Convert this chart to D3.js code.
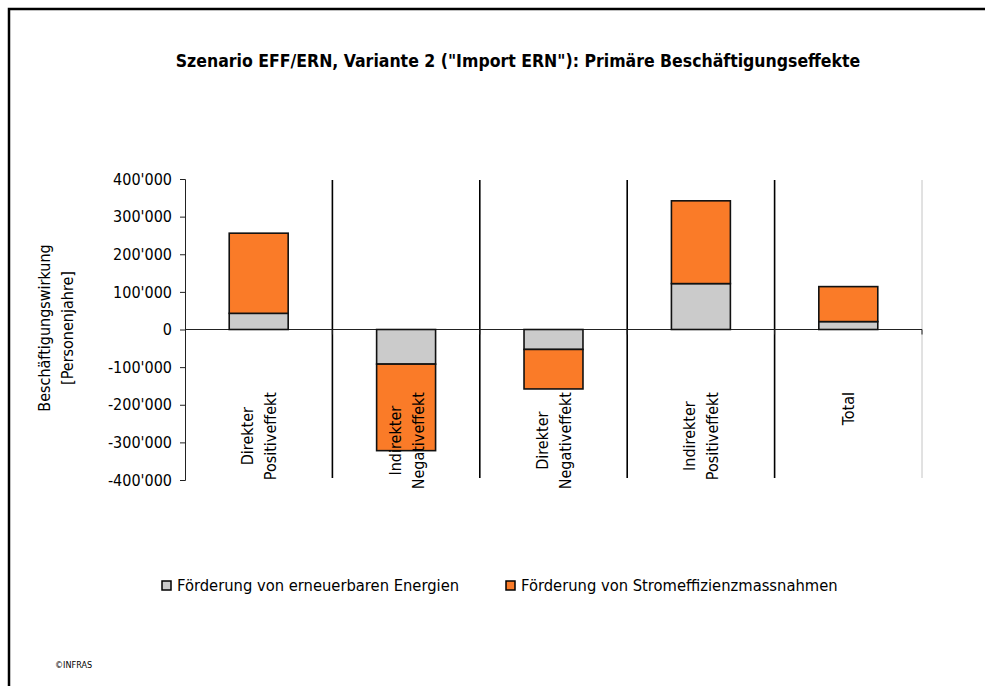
<!DOCTYPE html>
<html>
<head>
<meta charset="utf-8">
<script src="https://cdn.jsdelivr.net/npm/d3@7"></script>
<style>
  body { margin: 0; background: #fff; }
  svg text { font-family: "DejaVu Sans Condensed", "DejaVu Sans", sans-serif; font-stretch: condensed; fill: #000; }
</style>
</head>
<body>
<svg id="chart" width="985" height="686"></svg>
<script>
// data
var categories = ["Direkter Positiveffekt", "Indirekter Negativeffekt", "Direkter Negativeffekt", "Indirekter Positiveffekt", "Total"];
var seriesNames = ["Förderung von erneuerbaren Energien", "Förderung von Stromeffizienzmassnahmen"];
var erneuerbar = [43000, -92000, -53000, 122000, 21000];
var stromeffizienz = [213000, -230000, -105000, 220000, 93000];
var yTicks = [-400000, -300000, -200000, -100000, 0, 100000, 200000, 300000, 400000];
var colors = ["#cbcbcb", "#fa7b28"];

// note: "top" is taken by window.top, so plot edges get their own names
var svg = d3.select("#chart"),
    plotLeft = 185, plotRight = 922, plotTop = 179, plotBottom = 480;

// outer frame (runs off the right and bottom edge)
svg.append("rect")
    .attr("x", 9).attr("y", 9)
    .attr("width", 1000).attr("height", 1000)
    .attr("fill", "none").attr("stroke", "#000").attr("stroke-width", 2.5);

svg.append("text")
    .attr("x", 518).attr("y", 67)
    .attr("text-anchor", "middle")
    .style("font-size", "17.5px").style("font-weight", "bold")
    .text('Szenario EFF/ERN, Variante 2 ("Import ERN"): Primäre Beschäftigungseffekte');

var x = d3.scaleBand().domain(categories).range([plotLeft, plotRight]).padding(0);
var y = d3.scaleLinear().domain([-400000, 400000]).range([plotBottom, plotTop]);

var locale = d3.formatLocale({decimal: ".", thousands: "'", grouping: [3], currency: ["", ""], minus: "-"});
var fmt = locale.format(",d");

var table = categories.map(function (c, i) {
    return {cat: c, s0: erneuerbar[i], s1: stromeffizienz[i]};
});
var stack = d3.stack().keys(["s0", "s1"]).offset(d3.stackOffsetDiverging);
var layers = stack(table);

// separators between the categories
var bounds = categories.map(function (c) { return x(c); }).slice(1);
svg.selectAll(".sep")
    .data(bounds)
    .enter().append("line")
    .attr("class", "sep")
    .attr("x1", function (d) { return d; }).attr("x2", function (d) { return d; })
    .attr("y1", plotTop + 1).attr("y2", plotBottom - 2)
    .attr("stroke", "#000").attr("stroke-width", 1.6);

svg.append("line")
    .attr("x1", plotRight).attr("x2", plotRight)
    .attr("y1", plotTop + 1).attr("y2", plotBottom - 2)
    .attr("stroke", "#c4c4c4").attr("stroke-width", 1);

// zero line with category ticks
svg.append("line")
    .attr("x1", plotLeft).attr("x2", plotRight)
    .attr("y1", y(0)).attr("y2", y(0))
    .attr("stroke", "#222").attr("stroke-width", 1);

svg.selectAll(".xtick")
    .data(bounds.concat([plotRight]))
    .enter().append("line")
    .attr("class", "xtick")
    .attr("x1", function (d) { return d; }).attr("x2", function (d) { return d; })
    .attr("y1", y(0)).attr("y2", y(0) + 5)
    .attr("stroke", "#222");

// y axis
var yAxis = svg.append("g")
    .attr("transform", "translate(" + plotLeft + ",0)")
    .call(d3.axisLeft(y).tickValues(yTicks).tickFormat(fmt).tickSize(5).tickPadding(8));
yAxis.select(".domain").attr("stroke", "#222");
yAxis.selectAll(".tick line").attr("stroke", "#222");
yAxis.selectAll("text")
    .style("font-size", "16px")
    .style("font-family", '"DejaVu Sans Condensed", "DejaVu Sans", sans-serif');

// bars
var barW = x.bandwidth() * 0.4;
svg.selectAll(".layer")
    .data(layers)
    .enter().append("g")
    .attr("class", "layer")
    .attr("fill", function (d, i) { return colors[i]; })
    .selectAll("rect")
    .data(function (d) { return d; })
    .enter().append("rect")
    .attr("x", function (d) { return x(d.data.cat) + (x.bandwidth() - barW) / 2; })
    .attr("y", function (d) { return y(Math.max(d[0], d[1])); })
    .attr("width", barW)
    .attr("height", function (d) { return Math.abs(y(d[0]) - y(d[1])); })
    .attr("stroke", "#111").attr("stroke-width", 1.6);

// rotated category labels, longest line starts at the same height
var labelTop = 392, lineGap = 23;
categories.forEach(function (c) {
    var lines = c.split(" "),
        cx = x(c) + x.bandwidth() / 2,
        n = lines.length;
    var texts = lines.map(function (l, i) {
        var bx = cx + 6 + (i - (n - 1) / 2) * lineGap;
        return svg.append("text")
            .attr("text-anchor", "middle")
            .style("font-size", "16px")
            .attr("data-bx", bx)
            .text(l);
    });
    var maxLen = d3.max(texts, function (t) { return t.node().getComputedTextLength(); });
    texts.forEach(function (t) {
        t.attr("transform", "translate(" + t.attr("data-bx") + "," + (labelTop + maxLen / 2) + ") rotate(-90)");
    });
});

// y axis title
["Beschäftigungswirkung", "[Personenjahre]"].forEach(function (l, i) {
    svg.append("text")
        .attr("text-anchor", "middle")
        .attr("transform", "translate(" + (50 + i * 23) + ",328) rotate(-90)")
        .style("font-size", "16px")
        .text(l);
});

// legend
var legendX = [162, 506];
var legend = svg.selectAll(".legend")
    .data(seriesNames)
    .enter().append("g")
    .attr("class", "legend")
    .attr("transform", function (d, i) { return "translate(" + legendX[i] + ",581)"; });
legend.append("rect")
    .attr("width", 9).attr("height", 9)
    .attr("fill", function (d, i) { return colors[i]; })
    .attr("stroke", "#000").attr("stroke-width", 1.5);
legend.append("text")
    .attr("x", 15).attr("y", 10)
    .style("font-size", "16.4px")
    .text(function (d) { return d; });

svg.append("text")
    .attr("x", 55).attr("y", 668)
    .style("font-size", "9px")
    .text("©INFRAS");
</script>
</body>
</html>
